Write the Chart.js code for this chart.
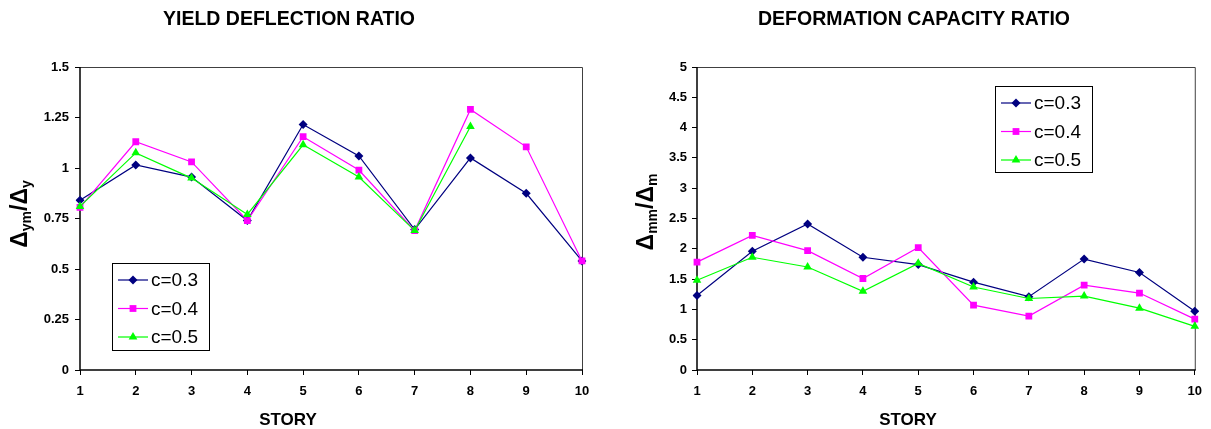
<!DOCTYPE html>
<html>
<head>
<meta charset="utf-8">
<script src="https://cdn.jsdelivr.net/npm/chart.js@4.4.1/dist/chart.umd.min.js"></script>
<style>
  html, body { margin: 0; padding: 0; background: #fff; }
  #wrap { position: relative; width: 1211px; height: 429px; }
  .panel { position: absolute; top: 0; height: 429px; }
  #p1 { left: 0; width: 606px; }
  #p2 { left: 606px; width: 605px; }
</style>
</head>
<body>
<div id="wrap">
  <div class="panel" id="p1"><canvas id="yield-chart"></canvas></div>
  <div class="panel" id="p2"><canvas id="capacity-chart"></canvas></div>
</div>
<script>
'use strict';

// ---- data ----
const stories = ['1', '2', '3', '4', '5', '6', '7', '8', '9', '10'];
const seriesNames = ['c=0.3', 'c=0.4', 'c=0.5'];

// yield deflection ratio (left)
const yieldC03 = [0.84, 1.015, 0.955, 0.74, 1.215, 1.06, 0.695, 1.05, 0.875, 0.54];
const yieldC04 = [0.805, 1.13, 1.03, 0.74, 1.155, 0.99, 0.69, 1.29, 1.105, 0.54];
const yieldC05 = [0.81, 1.075, 0.95, 0.77, 1.115, 0.955, 0.69, 1.205, null, null];
const yieldTicks = ['0', '0.25', '0.5', '0.75', '1', '1.25', '1.5'];

// deformation capacity ratio (right)
const capC03 = [1.23, 1.96, 2.41, 1.86, 1.74, 1.45, 1.21, 1.83, 1.61, 0.97];
const capC04 = [1.78, 2.22, 1.97, 1.51, 2.02, 1.07, 0.89, 1.40, 1.27, 0.84];
const capC05 = [1.48, 1.86, 1.70, 1.30, 1.76, 1.37, 1.18, 1.22, 1.02, 0.72];
const capTicks = ['0', '0.5', '1', '1.5', '2', '2.5', '3', '3.5', '4', '4.5', '5'];

const FONT = '"Liberation Sans", Arial, Helvetica, sans-serif';
const seriesStyle = [
  { color: '#000080', point: 'rectRot', radius: 4.5 },
  { color: '#FF00FF', point: 'rect', radius: 4.8 },
  { color: '#00FF00', point: 'triangle', radius: 5 }
];

function drawMarker(ctx, style, x, y, color) {
  ctx.save();
  ctx.fillStyle = color;
  ctx.beginPath();
  if (style === 'rectRot') {
    const r = 4.5;
    ctx.moveTo(x, y - r); ctx.lineTo(x + r, y); ctx.lineTo(x, y + r); ctx.lineTo(x - r, y);
  } else if (style === 'rect') {
    const s = 3.4;
    ctx.rect(x - s, y - s, 2 * s, 2 * s);
  } else {
    const r = 5;
    ctx.moveTo(x, y - r); ctx.lineTo(x + r * 0.87, y + r * 0.5); ctx.lineTo(x - r * 0.87, y + r * 0.5);
  }
  ctx.closePath();
  ctx.fill();
  ctx.restore();
}

// titles, frame, rotated y title with subscripts, in-plot legend
const figurePlugin = {
  id: 'figure',
  beforeDatasetsDraw(chart, args, o) {
    const { ctx, chartArea: a } = chart;
    ctx.save();
    ctx.strokeStyle = '#404040';
    ctx.lineWidth = 1;
    ctx.beginPath();
    ctx.moveTo(a.left, a.top + 0.5); ctx.lineTo(a.right + 0.5, a.top + 0.5); ctx.lineTo(a.right + 0.5, a.bottom);
    ctx.stroke();
    ctx.strokeStyle = '#000';
    ctx.lineWidth = 1.5;
    ctx.beginPath();
    ctx.moveTo(a.left, a.top); ctx.lineTo(a.left, a.bottom); ctx.lineTo(a.right + 1, a.bottom);
    ctx.stroke();
    ctx.restore();
  },
  afterDraw(chart, args, o) {
    const ctx = chart.ctx;
    ctx.save();
    ctx.fillStyle = '#000';
    ctx.textAlign = 'center';
    ctx.textBaseline = 'middle';
    ctx.font = 'bold 19.5px ' + FONT;
    ctx.fillText(o.title, o.titleX, o.titleY);
    ctx.font = 'bold 17px ' + FONT;
    ctx.fillText('STORY', o.xTitleX, o.xTitleY);

    // y title
    let total = 0;
    o.yTitle.forEach(p => {
      ctx.font = p.sub ? 'bold 14px ' + FONT : 'bold 23px ' + FONT;
      p.w = ctx.measureText(p.t).width;
      total += p.w;
    });
    ctx.save();
    ctx.translate(o.yTitleX, o.yTitleY);
    ctx.rotate(-Math.PI / 2);
    ctx.textAlign = 'left';
    ctx.textBaseline = 'alphabetic';
    let x = -total / 2;
    o.yTitle.forEach(p => {
      ctx.font = p.sub ? 'bold 14px ' + FONT : 'bold 23px ' + FONT;
      ctx.fillText(p.t, x, p.sub ? 4 : 0);
      x += p.w;
    });
    ctx.restore();

    // legend
    const L = o.legend;
    ctx.fillStyle = '#fff';
    ctx.fillRect(L.x, L.y, L.w, L.h);
    ctx.strokeStyle = '#000';
    ctx.lineWidth = 1;
    ctx.strokeRect(L.x + 0.5, L.y + 0.5, L.w, L.h);
    ctx.font = '19px ' + FONT;
    ctx.textAlign = 'left';
    ctx.textBaseline = 'middle';
    seriesNames.forEach((name, i) => {
      const y = L.y + 17 + i * 28.5;
      const s = seriesStyle[i];
      ctx.strokeStyle = s.color;
      ctx.lineWidth = 1.2;
      ctx.beginPath();
      ctx.moveTo(L.x + 6, y); ctx.lineTo(L.x + 36, y);
      ctx.stroke();
      drawMarker(ctx, s.point, L.x + 21, y, s.color);
      ctx.fillStyle = '#000';
      ctx.fillText(name, L.x + 39, y + 1);
    });
    ctx.restore();
  }
};

function makeDatasets(values) {
  return values.map((data, i) => ({
    label: seriesNames[i],
    data,
    borderColor: seriesStyle[i].color,
    backgroundColor: seriesStyle[i].color,
    borderWidth: 1.2,
    pointStyle: seriesStyle[i].point,
    pointRadius: seriesStyle[i].radius,
    pointBackgroundColor: seriesStyle[i].color,
    pointBorderColor: seriesStyle[i].color,
    pointBorderWidth: 0,
    tension: 0,
    spanGaps: false,
    order: 3 - i
  }));
}

function makeChart(id, cfg) {
  return new Chart(document.getElementById(id), {
    type: 'line',
    data: { labels: stories, datasets: makeDatasets(cfg.series) },
    plugins: [figurePlugin],
    options: {
      responsive: true,
      maintainAspectRatio: false,
      animation: false,
      layout: { padding: { top: 67, right: cfg.padRight, left: 0, bottom: 0 } },
      plugins: {
        legend: { display: false },
        tooltip: { enabled: false },
        title: { display: false },
        figure: cfg.figure
      },
      scales: {
        x: {
          offset: false,
          border: { display: false },
          grid: { drawOnChartArea: false, drawTicks: true, tickLength: 5, color: '#000', lineWidth: 1 },
          ticks: { color: '#000', font: { family: FONT, size: 13, weight: 'bold' }, padding: 9, maxRotation: 0, autoSkip: false },
          afterFit(scale) { scale.height = 59; }
        },
        y: {
          min: 0,
          max: cfg.max,
          border: { display: false },
          grid: { drawOnChartArea: false, drawTicks: true, tickLength: 5, color: '#000', lineWidth: 1 },
          ticks: {
            stepSize: cfg.step,
            color: '#000',
            padding: cfg.tickPad,
            font: { family: FONT, size: 13, weight: 'bold' },
            callback: (v, i) => cfg.tickLabels[i]
          },
          afterFit(scale) { scale.width = cfg.axisWidth; }
        }
      }
    }
  });
}

makeChart('yield-chart', {
  series: [yieldC03, yieldC04, yieldC05],
  max: 1.5, step: 0.25, tickLabels: yieldTicks,
  padRight: 24, axisWidth: 80, tickPad: 6,
  figure: {
    title: 'YIELD DEFLECTION RATIO', titleX: 289, titleY: 20,
    xTitleX: 288, xTitleY: 420,
    yTitle: [{ t: 'Δ' }, { t: 'ym', sub: true }, { t: '/' }, { t: 'Δ' }, { t: 'y', sub: true }],
    yTitleX: 27, yTitleY: 214,
    legend: { x: 112, y: 263, w: 97, h: 87 }
  }
});

makeChart('capacity-chart', {
  series: [capC03, capC04, capC05],
  max: 5, step: 0.5, tickLabels: capTicks,
  padRight: 13, axisWidth: 91, tickPad: 5,
  figure: {
    title: 'DEFORMATION CAPACITY RATIO', titleX: 308, titleY: 20,
    xTitleX: 302, xTitleY: 420,
    yTitle: [{ t: 'Δ' }, { t: 'mm', sub: true }, { t: '/' }, { t: 'Δ' }, { t: 'm', sub: true }],
    yTitleX: 47, yTitleY: 212,
    legend: { x: 389, y: 86, w: 97, h: 86 }
  }
});
</script>
</body>
</html>
